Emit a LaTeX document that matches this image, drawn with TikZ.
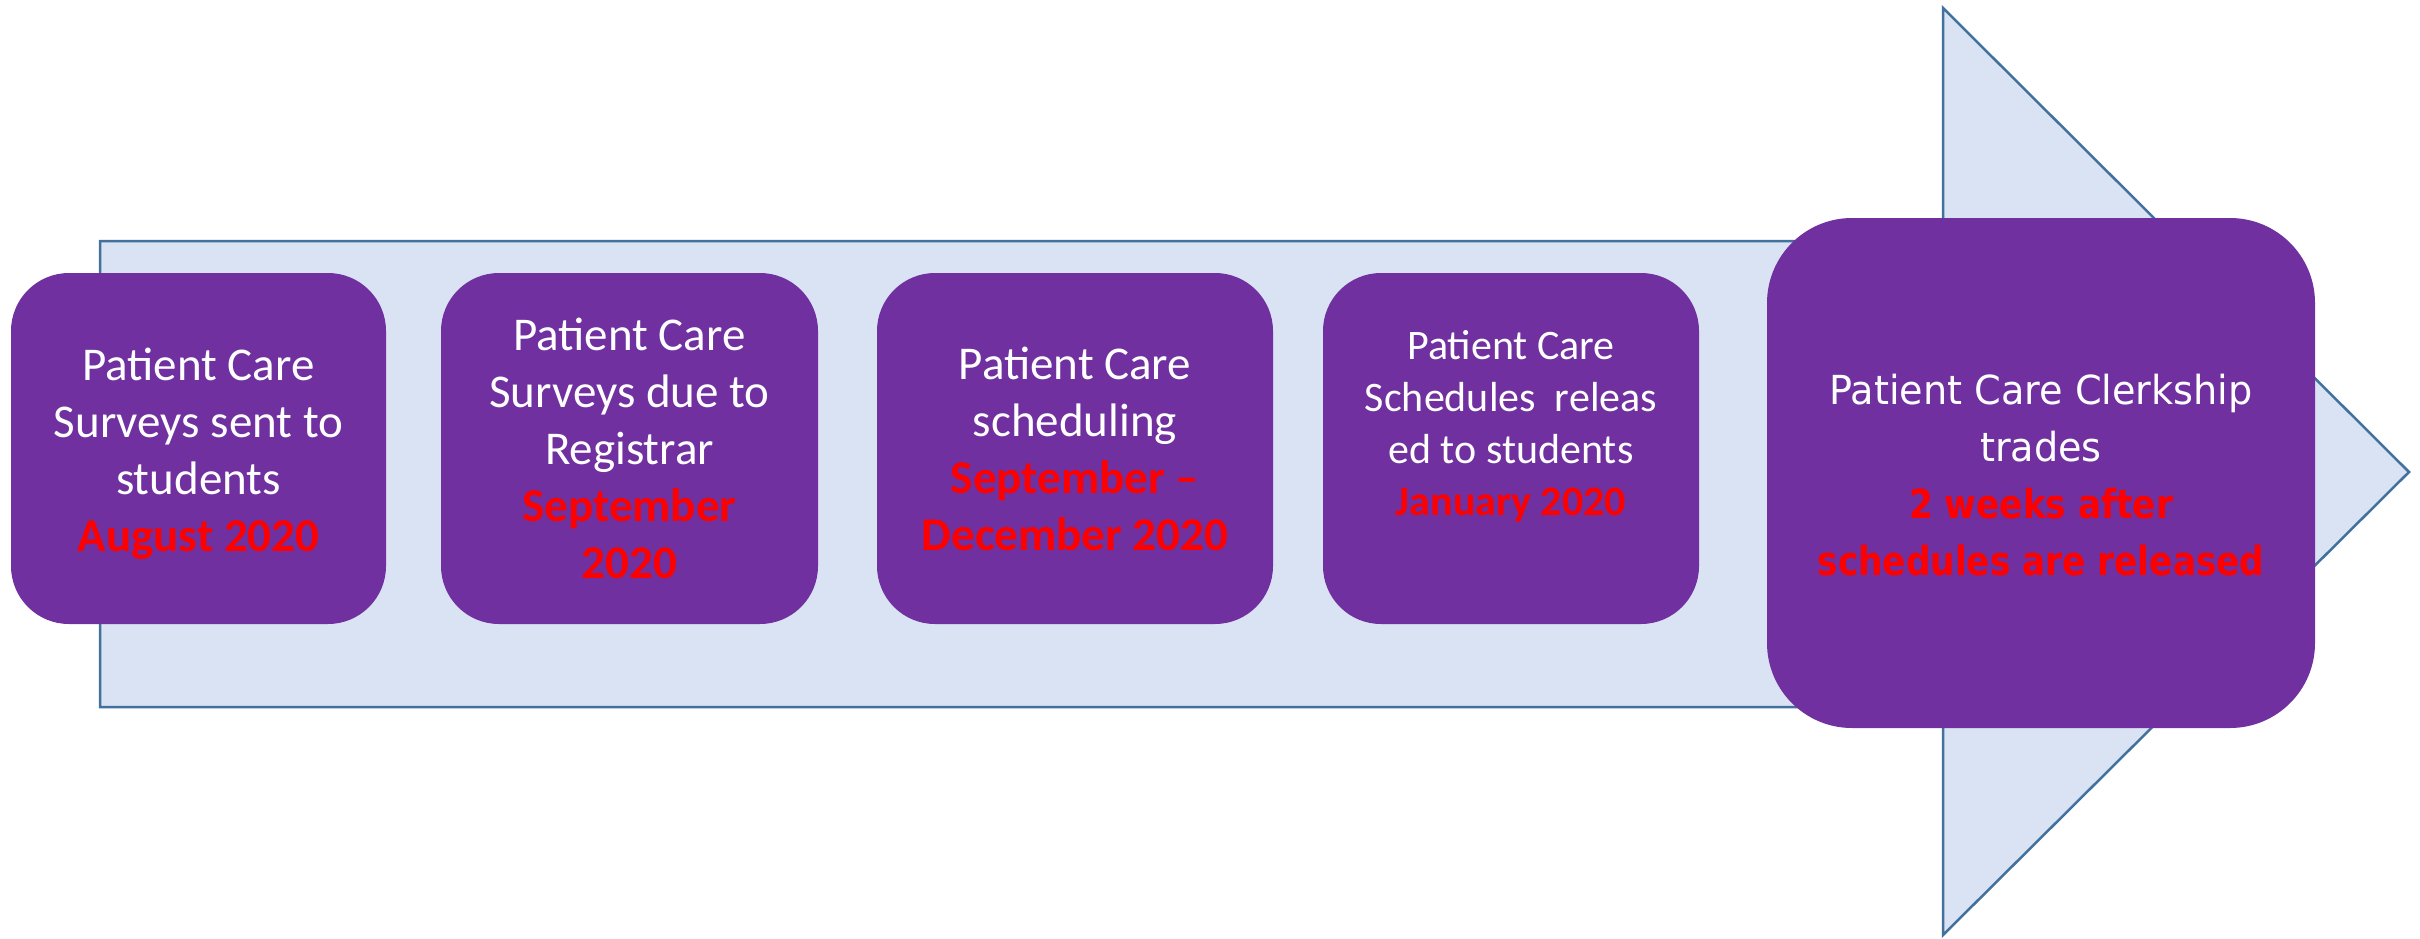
\documentclass[tikz,border=0pt]{standalone}
\usepackage{fontspec}
\setmainfont{Carlito}
\newfontfamily\wideregular[FakeStretch=0.955]{DejaVu Sans}
\newfontfamily\widebold[FakeStretch=0.858]{DejaVu Sans}
\definecolor{arrowfill}{HTML}{DAE3F3}
\definecolor{arrowline}{HTML}{41719C}
\definecolor{boxpurple}{HTML}{7030A0}
\definecolor{datered}{HTML}{FF0000}
\newcommand{\datetxt}[1]{\textcolor{datered}{\bfseries #1}}
\newcommand{\widedate}[1]{\textcolor{datered}{\widebold\bfseries #1}}
\tikzset{
  stepbox/.style={fill=boxpurple, draw=none, rounded corners=58pt, inner sep=0pt,
    minimum height=351pt},
  steptext/.style={text=white, align=center, inner sep=0pt,
    font=\fontsize{47pt}{57pt}\selectfont},
  smalltext/.style={steptext, font=\fontsize{42pt}{52pt}\selectfont},
  bigtext/.style={steptext, font=\wideregular\fontsize{40pt}{57pt}\selectfont},
  bigarrow/.style={fill=arrowfill, draw=arrowline, line width=2.5pt, line join=miter}
}
\begin{document}
\begin{tikzpicture}[x=1pt,y=-1pt]
\useasboundingbox (0,0) rectangle (2420,938);
% big arrow
\draw[bigarrow] (100,241) -- (1943,241) -- (1943,8) -- (2409,472) -- (1943,935)
  -- (1943,707) -- (100,707) -- cycle;
% boxes
\node[stepbox, minimum width=375pt] (b1) at (198.5,448.5) {};
\node[stepbox, minimum width=377pt] (b2) at (629.5,448.5) {};
\node[stepbox, minimum width=396pt] (b3) at (1075,448.5) {};
\node[stepbox, minimum width=376pt] (b4) at (1511,448.5) {};
\node[stepbox, minimum width=548pt, minimum height=510pt, rounded corners=85pt] (b5) at (2041,473) {};
% texts
\node[steptext] (t1) at ([yshift=-5pt]b1.center) {Patient Care\\Surveys sent to\\students\\\datetxt{August 2020}};
\node[steptext] (t2) at (b2.center) {Patient Care\\Surveys due to\\Registrar\\\datetxt{September}\\\datetxt{2020}};
\node[steptext] (t3) at (b3.center) {Patient Care\\scheduling\\\datetxt{September –}\\\datetxt{December 2020}};
\node[smalltext] (t4) at ([yshift=22pt]b4.center) {Patient Care\\Schedules\ \ releas\\ed to students\\\datetxt{January 2020}};
\node[bigtext] (t5) at ([yshift=-2pt]b5.center) {Patient Care Clerkship\\trades\\\widedate{2 weeks after}\\\widedate{schedules are released}};
\end{tikzpicture}
\end{document}
